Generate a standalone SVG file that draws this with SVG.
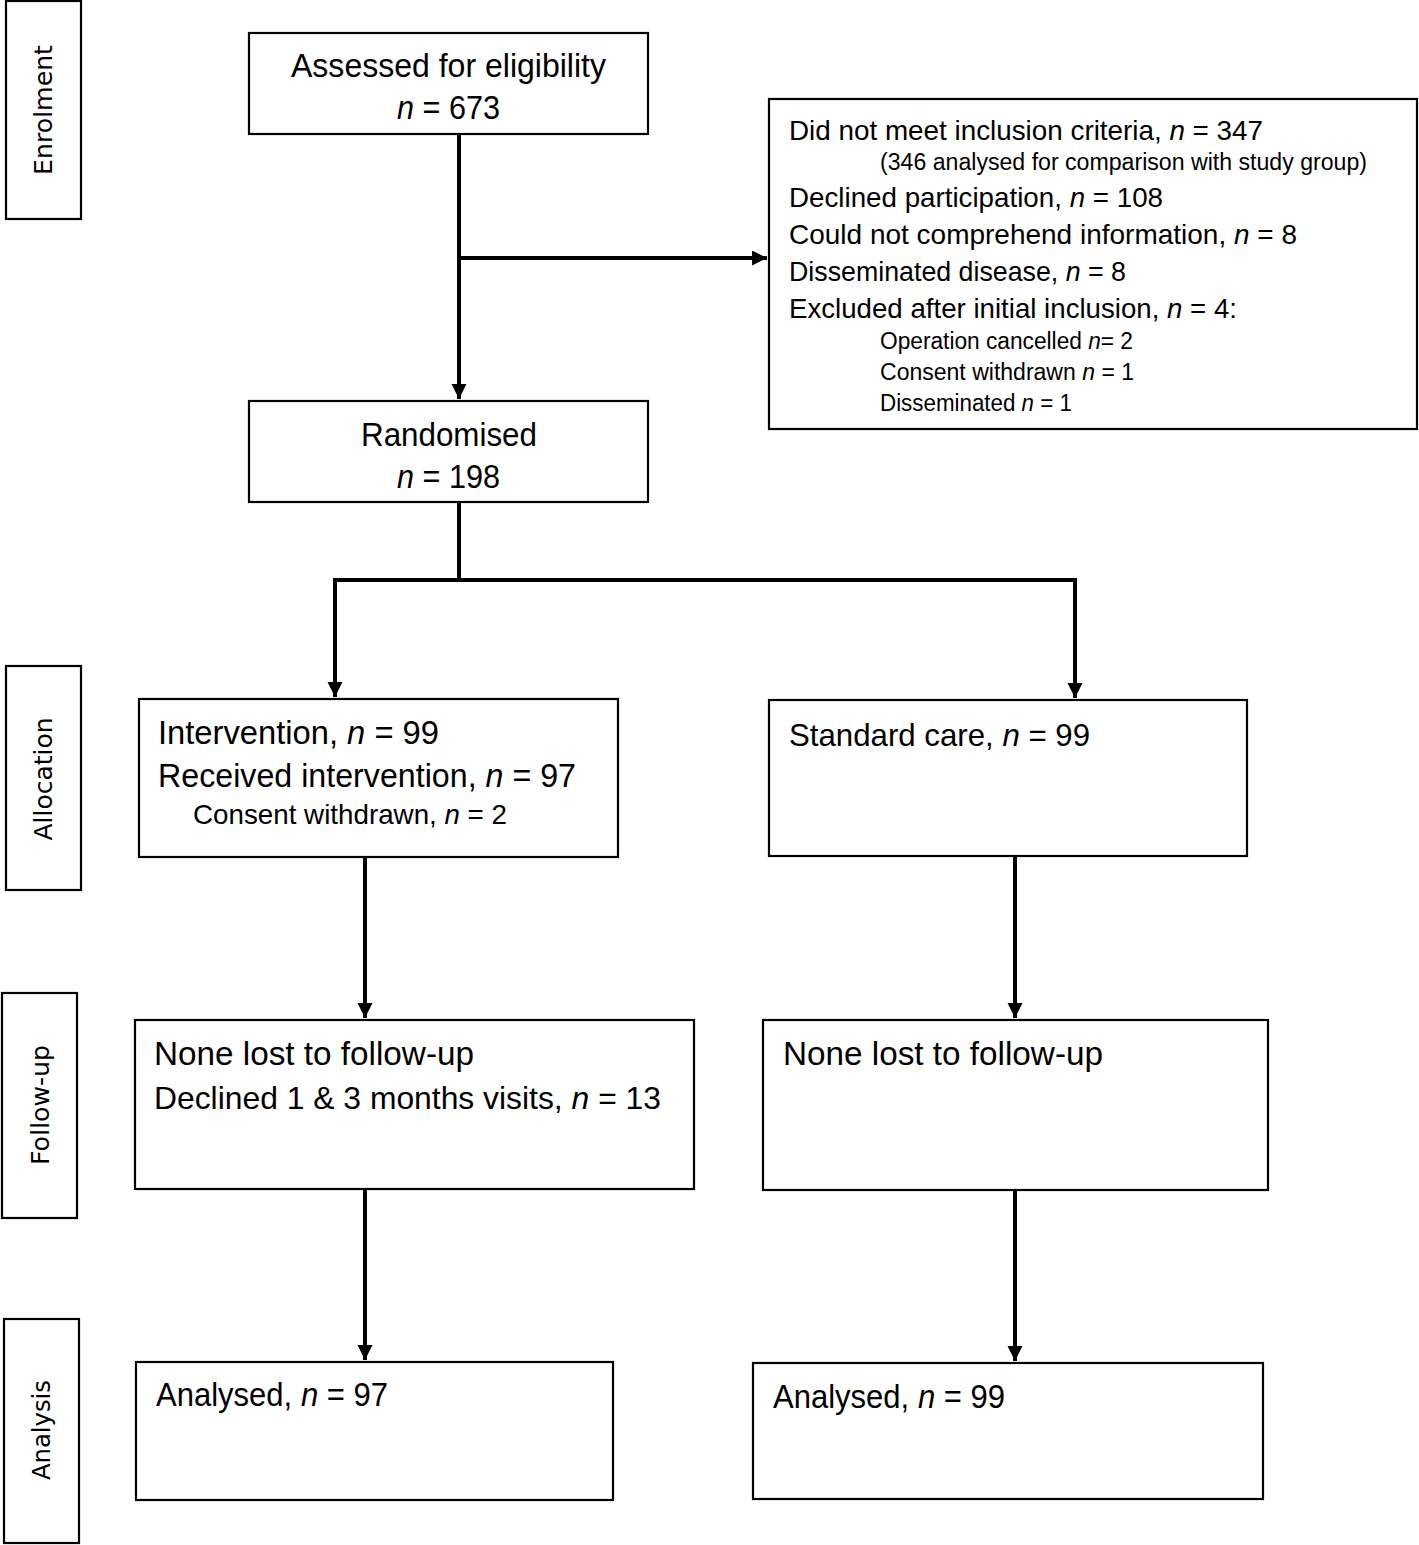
<svg xmlns="http://www.w3.org/2000/svg" width="1419" height="1545" viewBox="0 0 1419 1545">
<style>
.box{fill:#fff;stroke:#000;stroke-width:2.2}
text{font-family:"Liberation Sans",Arial,sans-serif;fill:#000}
.t{font-size:33px}
.e{font-size:28px}
.e2{font-size:27.5px}
.s{font-size:23px}
.m{font-size:28px}
.d{font-size:32px}
.i{font-style:italic}
.st{font-family:"DejaVu Sans",Verdana,sans-serif;font-size:24px}
.c{fill:none;stroke:#000;stroke-width:4}
</style>
<defs>
<marker id="ah" markerUnits="userSpaceOnUse" markerWidth="16" markerHeight="16" refX="15" refY="7.5" orient="auto">
<path d="M0,0 L15,7.5 L0,15 z" fill="#000"/>
</marker>
</defs>
<rect width="1419" height="1545" fill="#fff"/>

<g id="stage-enrolment">
<rect class="box" x="6" y="1" width="75" height="218"/>
<text class="st" transform="translate(44,110) rotate(-90)" text-anchor="middle" dominant-baseline="central" textLength="130" lengthAdjust="spacingAndGlyphs">Enrolment</text>
</g>
<g id="stage-allocation">
<rect class="box" x="6" y="666" width="75" height="224"/>
<text class="st" transform="translate(44,779) rotate(-90)" text-anchor="middle" dominant-baseline="central" textLength="123" lengthAdjust="spacingAndGlyphs">Allocation</text>
</g>
<g id="stage-followup">
<rect class="box" x="2" y="993" width="75" height="225"/>
<text class="st" transform="translate(41,1105) rotate(-90)" text-anchor="middle" dominant-baseline="central" textLength="120" lengthAdjust="spacingAndGlyphs">Follow-up</text>
</g>
<g id="stage-analysis">
<rect class="box" x="4" y="1319" width="75" height="224"/>
<text class="st" transform="translate(42,1430) rotate(-90)" text-anchor="middle" dominant-baseline="central" textLength="100" lengthAdjust="spacingAndGlyphs">Analysis</text>
</g>

<g id="connectors">
<line class="c" x1="459" y1="134" x2="459" y2="399" marker-end="url(#ah)"/>
<line class="c" x1="459" y1="258" x2="767" y2="258" marker-end="url(#ah)"/>
<polyline class="c" points="459,502 459,580"/>
<polyline class="c" points="333,580 1077,580"/>
<line class="c" x1="335" y1="578" x2="335" y2="697" marker-end="url(#ah)"/>
<line class="c" x1="1075" y1="578" x2="1075" y2="698" marker-end="url(#ah)"/>
<line class="c" x1="365" y1="857" x2="365" y2="1018" marker-end="url(#ah)"/>
<line class="c" x1="1015" y1="856" x2="1015" y2="1018" marker-end="url(#ah)"/>
<line class="c" x1="365" y1="1189" x2="365" y2="1360" marker-end="url(#ah)"/>
<line class="c" x1="1015" y1="1190" x2="1015" y2="1361" marker-end="url(#ah)"/>
</g>

<g id="assessed">
<rect class="box" x="249" y="33" width="399" height="101"/>
<text class="t" x="448.5" y="77" text-anchor="middle" textLength="315" lengthAdjust="spacingAndGlyphs">Assessed for eligibility</text>
<text class="t i" x="397" y="119" textLength="17" lengthAdjust="spacingAndGlyphs">n</text>
<text class="t" x="422.5" y="119" textLength="77.5" lengthAdjust="spacingAndGlyphs">= 673</text>
</g>

<g id="excluded">
<rect class="box" x="769" y="99" width="648" height="330"/>
<text class="e" x="789" y="140" textLength="372.7" lengthAdjust="spacingAndGlyphs">Did not meet inclusion criteria,</text>
<text class="e i" x="1169.4" y="140" textLength="15.5" lengthAdjust="spacingAndGlyphs">n</text>
<text class="e" x="1192.6" y="140" textLength="70.4" lengthAdjust="spacingAndGlyphs">= 347</text>
<text class="s" x="880" y="170" textLength="487" lengthAdjust="spacingAndGlyphs">(346 analysed for comparison with study group)</text>
<text class="e" x="789" y="207" textLength="272.9" lengthAdjust="spacingAndGlyphs">Declined participation,</text>
<text class="e i" x="1069.7" y="207" textLength="15.4" lengthAdjust="spacingAndGlyphs">n</text>
<text class="e" x="1092.8" y="207" textLength="70.2" lengthAdjust="spacingAndGlyphs">= 108</text>
<text class="e" x="789" y="244" textLength="437.2" lengthAdjust="spacingAndGlyphs">Could not comprehend information,</text>
<text class="e i" x="1234" y="244" textLength="15.6" lengthAdjust="spacingAndGlyphs">n</text>
<text class="e" x="1257.3" y="244" textLength="39.7" lengthAdjust="spacingAndGlyphs">= 8</text>
<text class="e2" x="789" y="281" textLength="269.3" lengthAdjust="spacingAndGlyphs">Disseminated disease,</text>
<text class="e2 i" x="1065.7" y="281" textLength="14.9" lengthAdjust="spacingAndGlyphs">n</text>
<text class="e2" x="1088" y="281" textLength="38" lengthAdjust="spacingAndGlyphs">= 8</text>
<text class="e" x="789" y="318" textLength="370.4" lengthAdjust="spacingAndGlyphs">Excluded after initial inclusion,</text>
<text class="e i" x="1167" y="318" textLength="15.4" lengthAdjust="spacingAndGlyphs">n</text>
<text class="e" x="1190.1" y="318" textLength="46.9" lengthAdjust="spacingAndGlyphs">= 4:</text>
<text class="s" x="880" y="349" textLength="201.9" lengthAdjust="spacingAndGlyphs">Operation cancelled</text>
<text class="s i" x="1088.2" y="349" textLength="12.6" lengthAdjust="spacingAndGlyphs">n</text>
<text class="s" x="1100.8" y="349" textLength="32.2" lengthAdjust="spacingAndGlyphs">= 2</text>
<text class="s" x="880" y="380" textLength="195.8" lengthAdjust="spacingAndGlyphs">Consent withdrawn</text>
<text class="s i" x="1082.2" y="380" textLength="12.8" lengthAdjust="spacingAndGlyphs">n</text>
<text class="s" x="1101.4" y="380" textLength="32.6" lengthAdjust="spacingAndGlyphs">= 1</text>
<text class="s" x="880" y="411" textLength="135.4" lengthAdjust="spacingAndGlyphs">Disseminated</text>
<text class="s i" x="1021.6" y="411" textLength="12.4" lengthAdjust="spacingAndGlyphs">n</text>
<text class="s" x="1040.3" y="411" textLength="31.7" lengthAdjust="spacingAndGlyphs">= 1</text>
</g>

<g id="randomised">
<rect class="box" x="249" y="401" width="399" height="101"/>
<text class="t" x="449" y="446" text-anchor="middle" textLength="176" lengthAdjust="spacingAndGlyphs">Randomised</text>
<text class="t i" x="397" y="488" textLength="17" lengthAdjust="spacingAndGlyphs">n</text>
<text class="t" x="422.5" y="488" textLength="77.5" lengthAdjust="spacingAndGlyphs">= 198</text>
</g>

<g id="intervention">
<rect class="box" x="139" y="699" width="479" height="158"/>
<text class="t" x="158" y="744" textLength="180" lengthAdjust="spacingAndGlyphs">Intervention,</text>
<text class="t i" x="347.1" y="744" textLength="18.2" lengthAdjust="spacingAndGlyphs">n</text>
<text class="t" x="374.4" y="744" textLength="64.6" lengthAdjust="spacingAndGlyphs">= 99</text>
<text class="t" x="158" y="787" textLength="318.6" lengthAdjust="spacingAndGlyphs">Received intervention,</text>
<text class="t i" x="485.6" y="787" textLength="17.9" lengthAdjust="spacingAndGlyphs">n</text>
<text class="t" x="512.4" y="787" textLength="63.6" lengthAdjust="spacingAndGlyphs">= 97</text>
<text class="m" x="193" y="824" textLength="243.8" lengthAdjust="spacingAndGlyphs">Consent withdrawn,</text>
<text class="m i" x="444.5" y="824" textLength="15.4" lengthAdjust="spacingAndGlyphs">n</text>
<text class="m" x="467.6" y="824" textLength="39.4" lengthAdjust="spacingAndGlyphs">= 2</text>
</g>

<g id="standard">
<rect class="box" x="769" y="700" width="478" height="156"/>
<text class="d" x="789" y="746" textLength="204.7" lengthAdjust="spacingAndGlyphs">Standard care,</text>
<text class="d i" x="1002.4" y="746" textLength="17.4" lengthAdjust="spacingAndGlyphs">n</text>
<text class="d" x="1028.4" y="746" textLength="61.6" lengthAdjust="spacingAndGlyphs">= 99</text>
</g>

<g id="followup-intervention">
<rect class="box" x="135" y="1020" width="559" height="169"/>
<text class="t" x="154" y="1065" textLength="320" lengthAdjust="spacingAndGlyphs">None lost to follow-up</text>
<text class="d" x="154" y="1109" textLength="408.7" lengthAdjust="spacingAndGlyphs">Declined 1 &amp; 3 months visits,</text>
<text class="d i" x="571.6" y="1109" textLength="17.7" lengthAdjust="spacingAndGlyphs">n</text>
<text class="d" x="598.2" y="1109" textLength="62.8" lengthAdjust="spacingAndGlyphs">= 13</text>
</g>

<g id="followup-standard">
<rect class="box" x="763" y="1020" width="505" height="170"/>
<text class="t" x="783" y="1065" textLength="320" lengthAdjust="spacingAndGlyphs">None lost to follow-up</text>
</g>

<g id="analysis-intervention">
<rect class="box" x="136" y="1362" width="477" height="138"/>
<text class="t" x="156" y="1406" textLength="136.2" lengthAdjust="spacingAndGlyphs">Analysed,</text>
<text class="t i" x="300.9" y="1406" textLength="17.3" lengthAdjust="spacingAndGlyphs">n</text>
<text class="t" x="326.8" y="1406" textLength="61.3" lengthAdjust="spacingAndGlyphs">= 97</text>
</g>

<g id="analysis-standard">
<rect class="box" x="753" y="1363" width="510" height="136"/>
<text class="t" x="773" y="1408" textLength="136.2" lengthAdjust="spacingAndGlyphs">Analysed,</text>
<text class="t i" x="917.9" y="1408" textLength="17.3" lengthAdjust="spacingAndGlyphs">n</text>
<text class="t" x="943.8" y="1408" textLength="61.3" lengthAdjust="spacingAndGlyphs">= 99</text>
</g>
</svg>
